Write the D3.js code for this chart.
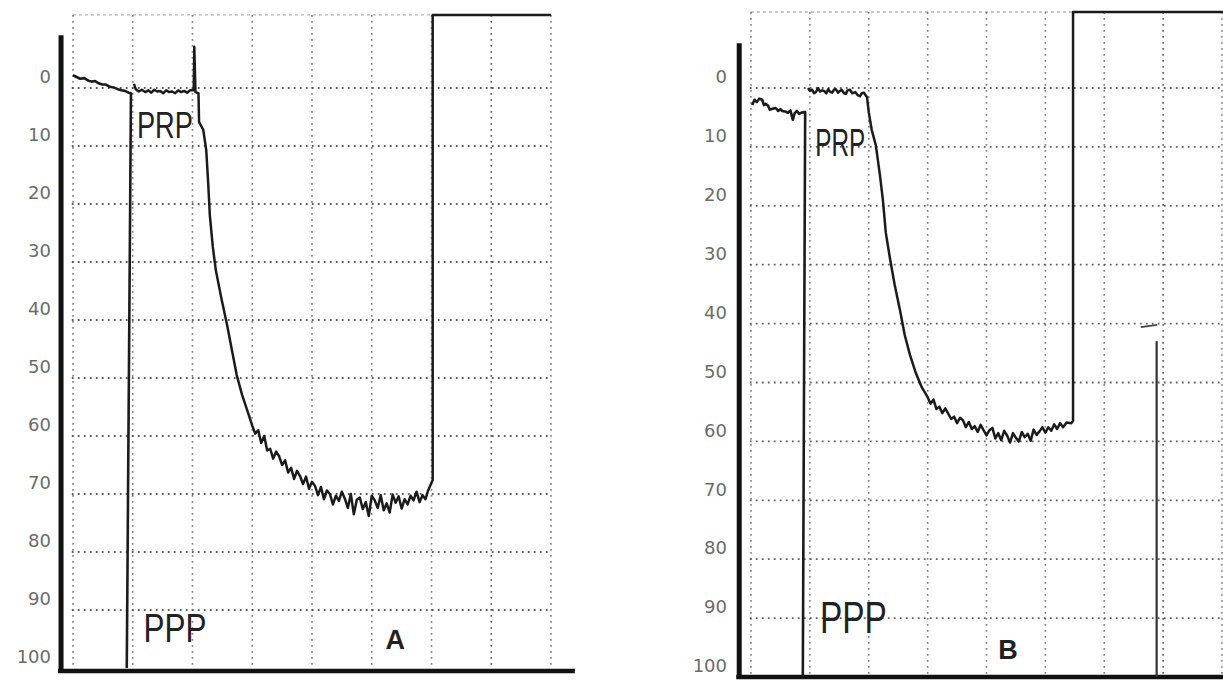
<!DOCTYPE html>
<html><head><meta charset="utf-8">
<script src="https://cdn.jsdelivr.net/npm/d3@7"></script>
<style>html,body{margin:0;padding:0;background:#fff;} svg{display:block;}</style>
</head><body>
<svg id="c" width="1223" height="683"></svg>
<script>
// ---------- data ----------
const yTicks = [0, 10, 20, 30, 40, 50, 60, 70, 80, 90, 100];
const gridLines = [0, 10, 20, 30, 40, 50, 60, 70, 80, 90];
const gridMinutes = [0, 1, 2, 3, 4, 5, 6, 7, 8];
const panelNames = ["A", "B"];
const sampleLabels = ["PRP", "PPP"];

// Panel A : [minute, % aggregation]
const pppA = [[0,-2.2],[0.06,-1.9],[0.12,-1.6],[0.19,-1.7],[0.25,-1.3],[0.31,-1.1],[0.37,-1.2],[0.43,-0.8],[0.49,-0.6],[0.55,-0.6],[0.62,-0.2],[0.68,-0.1],[0.75,0.2],[0.81,0.4],[0.87,0.5],[0.93,0.8],[0.97,0.9],[0.90,100]];
const prpA = [[1.02,-0.7],[1.05,0.2],[1.10,0.6],[1.15,0.3],[1.21,0.7],[1.26,0.4],[1.31,0.8],[1.36,0.3],[1.41,0.6],[1.46,0.5],[1.51,0.9],[1.56,0.4],[1.61,0.7],[1.66,0.6],[1.71,0.9],[1.76,0.4],[1.81,0.7],[1.86,0.5],[1.91,0.8],[1.96,0.4],[2.02,0.4],
 [2.03,-7.1],[2.05,0.7],[2.10,0.9],[2.11,5.9],[2.18,7.2],[2.23,10.7],[2.26,15.9],[2.29,21.9],[2.34,27.4],[2.39,31.4],[2.49,36.6],[2.58,40.9],[2.66,45.2],[2.74,49.5],[2.83,52.9],[2.93,56.0],
 [3.00,58.2],[3.05,59.6],[3.10,59.0],[3.15,61.2],[3.20,60.0],[3.25,62.5],[3.30,62.2],[3.35,63.9],[3.40,62.7],[3.45,63.5],[3.50,65.0],[3.55,64.2],[3.60,66.3],[3.65,65.5],[3.70,67.4],[3.75,66.0],[3.80,66.9],[3.85,68.3],[3.90,67.0],[3.95,69.1],
 [4.00,67.9],[4.05,68.6],[4.10,70.2],[4.15,68.8],[4.20,70.9],[4.25,69.4],[4.30,70.0],[4.35,71.8],[4.40,70.3],[4.45,71.2],[4.50,69.6],[4.55,70.8],[4.60,72.4],[4.65,70.0],[4.70,73.5],[4.75,71.0],[4.80,70.6],[4.85,72.6],[4.90,71.4],[4.95,73.8],
 [5.00,70.3],[5.05,71.1],[5.10,72.4],[5.15,70.2],[5.20,72.8],[5.25,71.6],[5.30,73.2],[5.35,70.1],[5.40,71.5],[5.45,70.4],[5.50,72.5],[5.55,70.9],[5.60,71.8],[5.65,70.3],[5.70,71.1],[5.75,69.6],[5.80,71.4],[5.85,70.2],[5.90,70.9],[5.94,69.5],
 [6.02,67.6],[6.02,-12.6],[8.0,-12.6]];

// Panel B
const pppB = [[0.02,2.9],[0.06,2.0],[0.10,2.4],[0.14,1.8],[0.19,2.0],[0.22,2.9],[0.25,2.7],[0.29,3.0],[0.32,3.7],[0.37,3.5],[0.42,3.4],[0.46,3.9],[0.50,3.6],[0.53,3.9],[0.58,4.0],[0.63,4.2],[0.67,3.8],[0.71,5.4],[0.74,4.3],[0.78,3.9],[0.82,4.4],[0.85,4.2],[0.90,4.1],[0.92,4.1],[0.88,100]];
const prpB = [[0.97,0.0],[1.00,0.5],[1.04,0.3],[1.07,0.9],[1.10,0.7],[1.14,0.0],[1.17,0.6],[1.21,0.4],[1.24,0.5],[1.28,0.9],[1.31,0.2],[1.34,0.6],[1.38,0.8],[1.41,0.3],[1.44,0.2],[1.48,0.8],[1.51,0.5],[1.54,0.3],[1.58,0.9],[1.61,1.0],[1.64,0.4],[1.68,0.3],[1.72,0.9],[1.77,0.7],[1.81,1.2],[1.85,1.4],[1.88,0.9],[1.92,0.8],[1.95,1.3],[1.97,1.5],
 [2.00,4.1],[2.05,7.1],[2.12,9.7],[2.19,14.8],[2.24,19.0],[2.29,24.6],[2.36,28.9],[2.44,33.4],[2.53,37.7],[2.61,41.9],[2.70,45.3],[2.80,48.4],[2.90,50.8],[3.00,52.5],
 [3.05,53.6],[3.10,52.9],[3.15,54.5],[3.20,54.1],[3.25,55.2],[3.30,54.4],[3.35,55.3],[3.40,56.2],[3.45,55.8],[3.50,56.9],[3.55,56.0],[3.60,56.4],[3.65,57.6],[3.70,56.7],[3.75,57.9],[3.80,57.4],[3.85,58.4],[3.90,57.2],[3.95,58.1],
 [4.00,59.0],[4.05,58.1],[4.10,57.7],[4.15,59.5],[4.20,58.6],[4.25,59.8],[4.30,58.2],[4.35,59.0],[4.40,60.2],[4.45,58.6],[4.50,59.4],[4.55,60.0],[4.60,58.4],[4.65,59.3],[4.70,58.7],[4.75,59.9],[4.80,58.0],[4.85,58.9],[4.90,58.3],[4.95,57.6],
 [5.00,58.5],[5.05,57.6],[5.10,58.2],[5.15,57.1],[5.20,57.9],[5.25,56.9],[5.30,57.6],[5.36,56.8],[5.44,56.9],[5.47,56.5],[5.47,-12.9],[8.2,-12.9]];
const markB = [[6.89,43],[6.89,100]];
const dashB = [[6.62,40.6],[6.9,40.2]];

// ---------- drawing ----------
const svg = d3.select("#c");
svg.append("rect").attr("width",1223).attr("height",683).attr("fill","#fff");

const panels = [
  { name: panelNames[0], ppp: pppA, prp: prpA, x: d3.scaleLinear().domain([0,8]).range([73,551]), y: d3.scaleLinear().domain([0,100]).range([88,668]),
    axisTop: -9.1, top: -12.6, bottomEnd: 8.4, bottomV: 100.5, labelX: 54,
    prpPos: [1.07, 8.6], prpW: 56, prpFs: 36, pppPos: [1.18, 95.5], pppW: 63, pppFs: 40, namePos: [5.23, 96.8], nameFs: 27, nameW: "bold" },
  { name: panelNames[1], ppp: pppB, prp: prpB, x: d3.scaleLinear().domain([0,8]).range([751,1222]), y: d3.scaleLinear().domain([0,100]).range([88,677]),
    axisTop: -7.6, top: -12.9, bottomEnd: 8.3, bottomV: 100, labelX: 730,
    prpPos: [1.09, 11.5], prpW: 50, prpFs: 38, pppPos: [1.17, 92.6], pppW: 67, pppFs: 44, namePos: [4.2, 97], nameFs: 27, nameW: "600" }
];

panels.forEach(p => {
  const g = svg.append("g");
  const x = p.x, y = p.y;

  // horizontal dotted grid
  g.selectAll(".hg").data(gridLines).join("line")
    .attr("x1", x(-0.02)).attr("x2", x(8))
    .attr("y1", d => y(d)).attr("y2", d => y(d))
    .attr("stroke", "#444").attr("stroke-width", 1.8).attr("stroke-dasharray", "1.8,4.2").attr("opacity", 0.85);
  // top faint border
  g.append("line").attr("x1", x(0)).attr("x2", x(8)).attr("y1", y(p.top)).attr("y2", y(p.top))
    .attr("stroke", "#888").attr("stroke-width", 1.3).attr("stroke-dasharray", "3,3").attr("opacity", 0.6);
  // vertical dotted grid
  g.selectAll(".vg").data(gridMinutes).join("line")
    .attr("x1", d => x(d)).attr("x2", d => x(d))
    .attr("y1", y(p.top)).attr("y2", y(100))
    .attr("stroke", "#555").attr("stroke-width", 1.6).attr("stroke-dasharray", "1.8,4.2").attr("opacity", d => d === 7 ? 0.95 : 0.75);

  // tick labels
  const ax = d3.axisLeft(y).tickValues(yTicks).tickSize(0).tickPadding(3);
  const ag = g.append("g").attr("transform", `translate(${p.labelX},-11)`).call(ax);
  ag.select(".domain").remove();
  ag.selectAll("text").attr("font-family", "DejaVu Sans, sans-serif").attr("font-size", 18).attr("fill", "#6b6b6b");

  // thick axes
  g.append("line").attr("x1", x(-0.2)).attr("x2", x(-0.2)).attr("y1", y(p.axisTop)).attr("y2", y(p.bottomV) + 2)
    .attr("stroke", "#111").attr("stroke-width", 5);
  g.append("line").attr("x1", x(-0.25)).attr("x2", x(p.bottomEnd)).attr("y1", y(p.bottomV)).attr("y2", y(p.bottomV))
    .attr("stroke", "#111").attr("stroke-width", 4.5);

  // traces
  const line = d3.line().x(d => x(d[0])).y(d => y(d[1]));
  g.append("path").attr("d", line(p.ppp)).attr("fill", "none").attr("stroke", "#1b1b1b").attr("stroke-width", 2.6).attr("stroke-linejoin", "round");
  g.append("path").attr("d", line(p.prp)).attr("fill", "none").attr("stroke", "#1b1b1b").attr("stroke-width", 2.5).attr("stroke-linejoin", "round");

  // labels
  const lab = (txt, pos, fs, w, weight) => g.append("text").text(txt)
    .attr("x", x(pos[0])).attr("y", y(pos[1]))
    .attr("font-family", "Liberation Sans, Arial, sans-serif").attr("font-size", fs).attr("font-weight", weight || "normal")
    .attr("fill", "#222").attr("textLength", w).attr("lengthAdjust", "spacingAndGlyphs");
  lab(sampleLabels[0], p.prpPos, p.prpFs, p.prpW);
  lab(sampleLabels[1], p.pppPos, p.pppFs, p.pppW);
  g.append("text").text(p.name).attr("x", x(p.namePos[0])).attr("y", y(p.namePos[1]))
    .attr("font-family", "Liberation Sans, Arial, sans-serif").attr("font-size", p.nameFs).attr("font-weight", p.nameW).attr("fill", "#222");

  if (p.name === "B") {
    g.append("path").attr("d", line(markB)).attr("stroke", "#333").attr("stroke-width", 2.2).attr("fill", "none");
    g.append("path").attr("d", line(dashB)).attr("stroke", "#444").attr("stroke-width", 1.8).attr("fill", "none");
  }
});
</script>
</body></html>
